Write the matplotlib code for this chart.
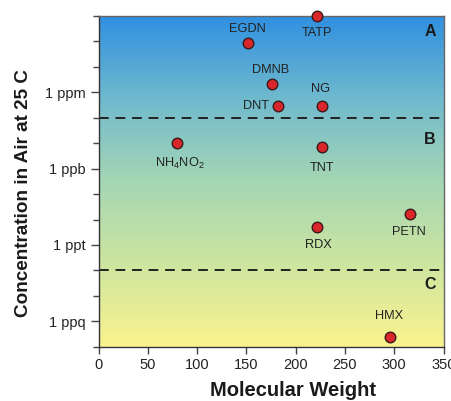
import numpy as np
import matplotlib
matplotlib.use("Agg")
import matplotlib.pyplot as plt
from matplotlib import font_manager as fm
from matplotlib.colors import LinearSegmentedColormap

names = {f.name for f in fm.fontManager.ttflist}
narrow = 'Liberation Sans Narrow' if 'Liberation Sans Narrow' in names else 'Liberation Sans'
plt.rcParams['font.family'] = ['Liberation Sans', 'DejaVu Sans']
plt.rcParams['mathtext.fontset'] = 'custom'
plt.rcParams['mathtext.rm'] = narrow
plt.rcParams['mathtext.it'] = narrow

# ---- data ----
compounds = ["TATP", "EGDN", "DMNB", "DNT", "NG", "NH$_4$NO$_2$", "TNT", "RDX", "PETN", "HMX"]
mol_weight = [222, 152, 176, 182, 227, 80, 227, 222, 316, 296]
concentration = [1.0e-3, 8.5e-5, 2.2e-6, 2.8e-7, 2.8e-7, 1.0e-8, 7.0e-9, 5.2e-12, 1.7e-11, 2.4e-16]
y_tick_values = [1e-6, 1e-9, 1e-12, 1e-15]
y_tick_labels = ["1 ppm", "1 ppb", "1 ppt", "1 ppq"]
x_ticks = [0, 50, 100, 150, 200, 250, 300, 350]
region_bounds = [1e-7, 1e-13]
region_labels = ["A", "B", "C"]

# label offsets (points) and alignment per compound
label_style = {
    "TATP": (0, -12, 'center', 'center'),
    "EGDN": (-1, 10.5, 'center', 'center'),
    "DMNB": (-1, 9.6, 'center', 'center'),
    "DNT": (-6.5, 0, 'right', 'center'),
    "NG": (-1.5, 12.2, 'center', 'center'),
    "NH$_4$NO$_2$": (2, -14.4, 'center', 'center'),
    "TNT": (0, -15, 'center', 'center'),
    "RDX": (0.5, -13, 'center', 'center'),
    "PETN": (-1, -13.5, 'center', 'center'),
    "HMX": (-1, 15.5, 'center', 'center'),
}

W, H = 451, 401
fig = plt.figure(figsize=(W / 100, H / 100), dpi=100)
ax = fig.add_axes([98.5 / W, 1 - 346.7 / H, (443.5 - 98.5) / W, (346.7 - 16) / H])

# gradient background
cmap = LinearSegmentedColormap.from_list("bg", [
    (0.0, (250 / 255, 243 / 255, 142 / 255)),
    (0.25, (205 / 255, 230 / 255, 160 / 255)),
    (0.5, (165 / 255, 214 / 255, 180 / 255)),
    (0.75, (112 / 255, 186 / 255, 206 / 255)),
    (1.0, (48 / 255, 144 / 255, 224 / 255)),
])
grad = np.linspace(0, 1, 256).reshape(-1, 1)
ax.imshow(grad, cmap=cmap, origin='lower', extent=[0, 1, 0, 1], transform=ax.transAxes,
          aspect='auto', zorder=0)

ax.set_xscale('linear')
ax.set_yscale('log')
ax.set_xlim(0, 350)
ax.set_ylim(1e-16, 1e-3)

for yb in region_bounds:
    ax.axhline(yb, color='#222222', lw=1.4, ls=(0, (5, 3.5)), zorder=2)

ax.scatter(mol_weight, concentration, s=58, color='#d8262a', edgecolor='#3a1a1a',
           linewidth=1.0, zorder=5, clip_on=False)

for name, mw, c in zip(compounds, mol_weight, concentration):
    dx, dy, ha, va = label_style[name]
    ax.annotate(name, (mw, c), xytext=(dx, dy), textcoords='offset points',
                ha=ha, va=va, fontsize=9.2, family=[narrow, 'DejaVu Sans'],
                color='#222222', zorder=6)

for lab, yf in zip(region_labels, [0.953, 0.627, 0.187]):
    ax.text(0.961, yf, lab, transform=ax.transAxes, ha='center', va='center',
            fontsize=11.5, fontweight='bold', color='#1a1a1a', zorder=6)

ax.set_xticks(x_ticks)
ax.set_xticklabels([str(v) for v in x_ticks], family=[narrow], fontsize=10.5, color='#222222')
ax.set_yticks(y_tick_values)
ax.set_yticklabels(y_tick_labels, family=[narrow], fontsize=10.5, color='#222222')
ax.yaxis.set_minor_locator(matplotlib.ticker.LogLocator(base=10, subs=(1.0,), numticks=30))
ax.yaxis.set_minor_formatter(matplotlib.ticker.NullFormatter())
ax.tick_params(axis='y', which='major', length=6, width=1, color='#444444', pad=3)
ax.tick_params(axis='y', which='minor', length=4, width=1, color='#444444')
ax.tick_params(axis='x', which='major', length=5, width=1, color='#444444', pad=3)
ax.tick_params(axis='x', which='minor', length=0)

for s in ax.spines.values():
    s.set_color('#666666')
    s.set_linewidth(1.0)
for s in ['left', 'bottom']:
    ax.spines[s].set_color('#333333')

fig.text(293 / W, 1 - 391 / H, "Molecular Weight", ha='center', va='center',
         fontsize=14.5, fontweight='bold', color='#1a1a1a')
fig.text(24 / W, 1 - 193 / H, "Concentration in Air at 25 C", ha='center', va='center',
         rotation=90, fontsize=13.6, fontweight='bold', color='#1a1a1a')

fig.savefig("out.png", dpi=100)
